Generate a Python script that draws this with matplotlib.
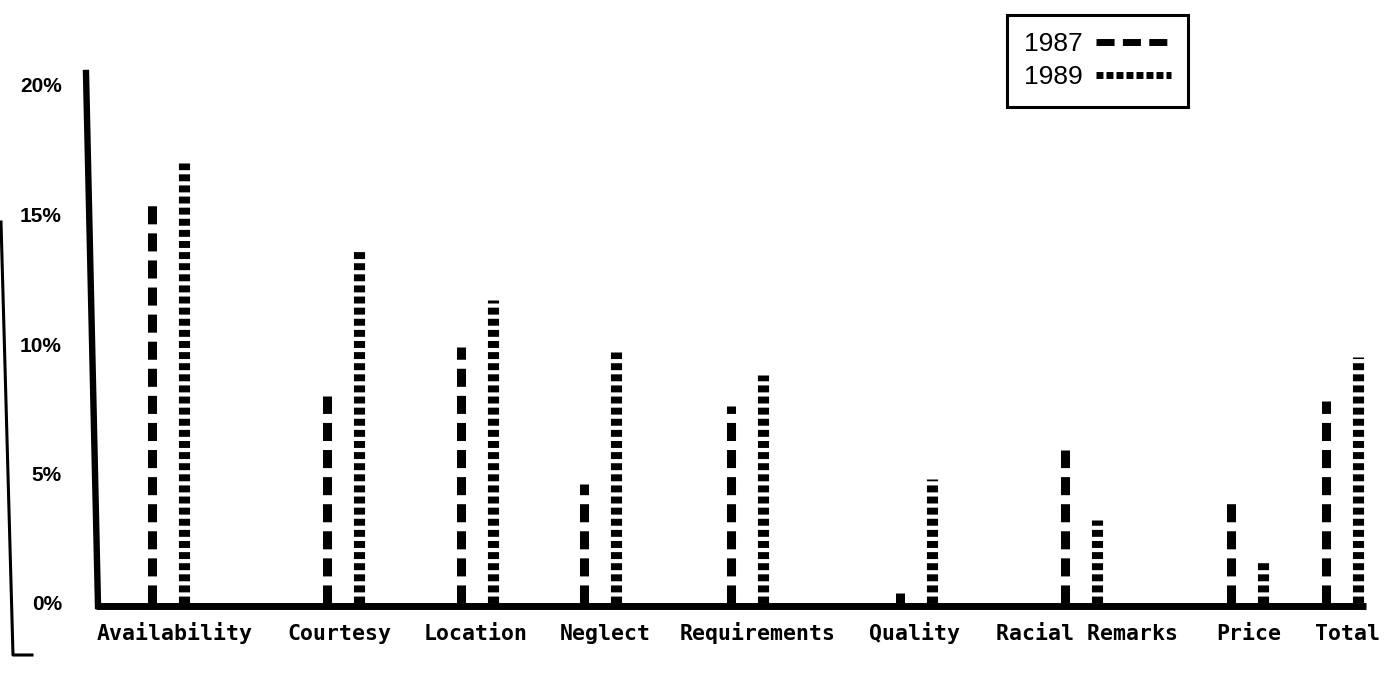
import matplotlib
matplotlib.use("Agg")
import matplotlib.pyplot as plt
from matplotlib.lines import Line2D

# complaint categories and share of responses (%)
categories = ["Availability", "Courtesy", "Location", "Neglect", "Requirements",
              "Quality", "Racial Remarks", "Price", "Total"]
pct_1987 = [15.4, 8.0, 9.9, 4.6, 7.6, 0.4, 5.9, 3.9, 7.8]
pct_1989 = [17.0, 13.6, 11.7, 9.7, 8.8, 4.8, 3.2, 1.7, 9.5]
years = ["1987", "1989"]
y_ticks = [0, 5, 10, 15, 20]

# layout: x is in pixel columns of the 1387 px wide page
group_x = [168, 343, 477, 600, 747, 916, 1081, 1247, 1342]
label_x = [175, 339, 476, 605, 758, 915, 1087, 1249, 1348]
half_gap = 16

W, H = 1387, 684
y0_px, y20_px = 603, 85        # pixel rows of 0% and 20%
px_per_pct = (y0_px - y20_px) / 20

plt.rcParams['lines.scale_dashes'] = False
narrow = ['Liberation Sans Narrow', 'Liberation Sans', 'DejaVu Sans']

fig = plt.figure(figsize=(W / 100, H / 100), dpi=100)
ax = fig.add_axes([98 / W, (H - y0_px) / H, (W - 98) / W, (y0_px - y20_px) / H])
ax.set_xlim(98, W)
ax.set_ylim(0, 20)
for s in ax.spines.values():
    s.set_visible(False)

# dashed "bars"
style_87 = dict(color='black', lw=6.5, dashes=(13, 6.5), dash_capstyle='butt')
style_89 = dict(color='black', lw=8, dashes=(5, 3), dash_capstyle='butt')
for x, v in zip(group_x, pct_1987):
    ax.plot([x - half_gap, x - half_gap], [0, v], **style_87)
for x, v in zip(group_x, pct_1989):
    ax.plot([x + half_gap, x + half_gap], [0, v], **style_89)

# hand-drawn axes (left one is a bit slanted on the original)
top = (y0_px - 73) / px_per_pct
bot = (y0_px - 606) / px_per_pct
ax.plot([86, 98], [top, bot], color='black', lw=4.6, clip_on=False,
        solid_capstyle='projecting')
ax.plot([96, 1366], [bot, bot], color='black', lw=5, clip_on=False,
        solid_capstyle='butt')

ax.set_yticks(y_ticks, [f"{t}%" for t in y_ticks])
ax.set_xticks(label_x, categories)
ax.tick_params(axis='both', length=0)
ax.tick_params(axis='y', pad=26)
ax.tick_params(axis='x', pad=27)
for t in ax.get_yticklabels():
    t.set_fontfamily(narrow)
    t.set_fontsize(15)
    t.set_fontweight('bold')
    t.set_verticalalignment('center_baseline')
for t in ax.get_xticklabels():
    t.set_fontfamily('DejaVu Sans Mono')
    t.set_fontsize(15.5)
    t.set_fontweight('bold')
    t.set_verticalalignment('baseline')

# scan edge mark on the left
fig.add_artist(Line2D([1 / W, 13 / W, 32 / W], [1 - 222 / H, 1 - 655 / H, 1 - 655 / H],
                      transform=fig.transFigure, color='black', lw=2.2))

handles = [Line2D([], [], color='black', lw=5, dashes=(13, 6)),
           Line2D([], [], color='black', lw=5, dashes=(5, 2.2))]
leg = fig.legend(handles, years, loc='upper left',
                 bbox_to_anchor=(1007 / W, 1 - 15 / H), bbox_transform=fig.transFigure,
                 markerfirst=False, fancybox=False, edgecolor='black', framealpha=1,
                 borderaxespad=0, borderpad=0.65, handlelength=2.85, handletextpad=0.5,
                 labelspacing=0.35, prop=dict(family=narrow, size=19))
leg.get_frame().set_linewidth(2.2)

fig.savefig("out.png", dpi=100, facecolor='white')
